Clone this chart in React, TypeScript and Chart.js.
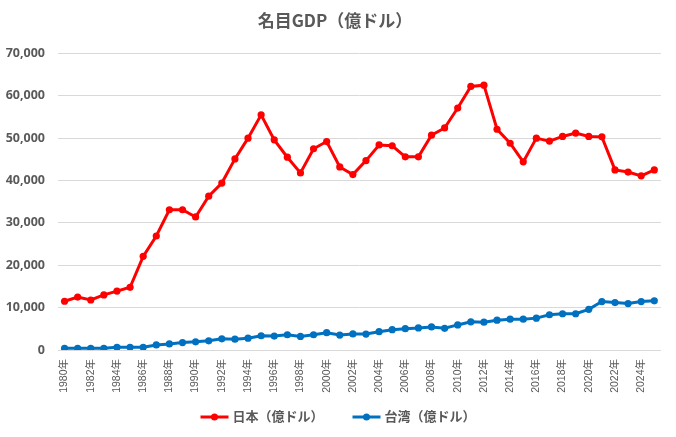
import React, { useEffect, useRef } from 'react';
import Chart from 'chart.js/auto';

const years: string[] = [];
for (let y = 1980; y <= 2025; y++) years.push(`${y}年`);

const japanGdp = [
  11500, 12500, 11800, 13000, 13900, 14800, 22100, 26900, 33100, 33100,
  31400, 36300, 39400, 45100, 50000, 55500, 49600, 45500, 41800, 47500,
  49200, 43200, 41400, 44700, 48400, 48200, 45600, 45600, 50700, 52400,
  57100, 62200, 62500, 52100, 48800, 44400, 50000, 49300, 50400, 51200,
  50400, 50300, 42500, 42000, 41100, 42500,
];

const taiwanGdp = [
  400, 400, 400, 400, 640, 640, 640, 1200, 1440, 1760,
  1920, 2160, 2640, 2560, 2800, 3360, 3280, 3600, 3200, 3600,
  4080, 3520, 3800, 3760, 4320, 4800, 5040, 5200, 5440, 5120,
  5920, 6640, 6560, 7040, 7280, 7280, 7520, 8320, 8560, 8560,
  9600, 11440, 11200, 10960, 11440, 11600,
];

const seriesNames = ['日本（億ドル）', '台湾（億ドル）'];
const seriesColors = ['#FF0000', '#0070C0'];

const CJK = '"Noto Sans CJK JP", "Noto Sans", sans-serif';
const TEXT_GRAY = '#595959';

// Excel-like legend under the plot: short line with a dot, then the label
const lineLegend = {
  id: 'lineLegend',
  afterDraw(chart: any) {
    const ctx = chart.ctx as CanvasRenderingContext2D;
    const y = 417;
    const lineLen = 28;
    const gap = 4;
    const itemGap = 29;
    ctx.save();
    ctx.font = `bold 13px ${CJK}`;
    const items = chart.data.datasets.map((ds: any) => ({
      text: ds.label as string,
      color: ds.borderColor as string,
      w: lineLen + gap + ctx.measureText(ds.label).width,
    }));
    const total = items.reduce((s: number, it: any) => s + it.w, 0) + itemGap * (items.length - 1);
    let x = chart.width / 2 - total / 2;
    for (const it of items) {
      ctx.strokeStyle = it.color;
      ctx.lineWidth = 3;
      ctx.beginPath();
      ctx.moveTo(x, y);
      ctx.lineTo(x + lineLen, y);
      ctx.stroke();
      ctx.fillStyle = it.color;
      ctx.beginPath();
      ctx.arc(x + lineLen / 2, y, 3.5, 0, Math.PI * 2);
      ctx.fill();
      ctx.fillStyle = TEXT_GRAY;
      ctx.textBaseline = 'middle';
      ctx.textAlign = 'left';
      ctx.fillText(it.text, x + lineLen + gap, y - 1);
      x += it.w + itemGap;
    }
    ctx.restore();
  },
};

const GdpChart: React.FC = () => {
  const chartRef = useRef<HTMLCanvasElement>(null);

  useEffect(() => {
    document.body.style.margin = '0';
    let chart: Chart | null = null;
    if (chartRef.current) {
      const ctx = chartRef.current.getContext('2d');
      if (ctx) {
        chart = new Chart(ctx, {
          type: 'line',
          data: {
            labels: years,
            datasets: [japanGdp, taiwanGdp].map((d, i) => ({
              label: seriesNames[i],
              data: d,
              borderColor: seriesColors[i],
              backgroundColor: seriesColors[i],
              borderWidth: 3,
              pointRadius: 3.6,
              pointBorderWidth: 0,
              pointHoverRadius: 3.6,
              tension: 0,
            })),
          },
          options: {
            animation: false,
            responsive: false,
            maintainAspectRatio: false,
            layout: { padding: { left: 3, right: 9, top: 0, bottom: 0 } },
            plugins: {
              title: {
                display: true,
                text: '名目GDP（億ドル）',
                color: TEXT_GRAY,
                font: { family: CJK, size: 17, weight: 'bold' },
                padding: { top: 10, bottom: 23 },
              },
              legend: { display: false },
              tooltip: { enabled: false },
            },
            scales: {
              x: {
                offset: true,
                grid: { display: false, drawTicks: false },
                border: { color: '#D9D9D9', width: 1 },
                afterFit: (scale: any) => {
                  scale.height = 87;
                },
                ticks: {
                  autoSkip: false,
                  maxRotation: 90,
                  minRotation: 90,
                  padding: 9,
                  color: TEXT_GRAY,
                  font: { family: '"Liberation Sans", "Noto Sans CJK JP", sans-serif', size: 10.5 },
                  callback: (_v: any, i: number) => (i % 2 === 0 ? years[i] : ''),
                },
              },
              y: {
                min: 0,
                max: 70000,
                grid: { color: '#D9D9D9', drawTicks: false },
                border: { display: false },
                afterFit: (scale: any) => {
                  scale.width = 55;
                },
                ticks: {
                  stepSize: 10000,
                  padding: 13,
                  color: TEXT_GRAY,
                  font: { family: '"Noto Sans", sans-serif', size: 12.5, weight: 'bold' },
                  callback: (v: any) => Number(v).toLocaleString('en-US'),
                },
              },
            },
          },
          plugins: [lineLegend],
        });
      }
    }
    return () => {
      if (chart) chart.destroy();
    };
  }, []);

  return <canvas ref={chartRef} width={676} height={437} style={{ display: 'block' }} />;
};

export default function App() {
  return <GdpChart />;
}
